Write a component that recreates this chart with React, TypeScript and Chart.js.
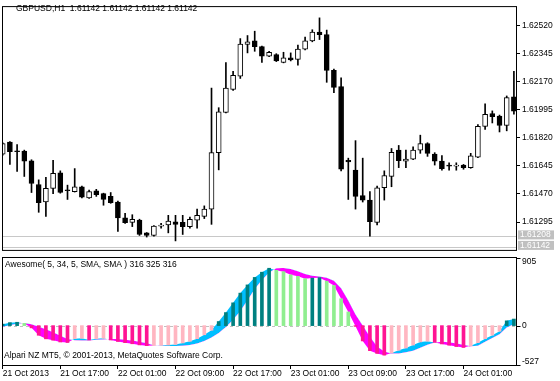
import React, { useEffect, useRef } from 'react';
import { Chart, registerables } from 'chart.js';

Chart.register(...registerables);

// ---------- data ----------
const opens = [
  1.61717, 1.61793, 1.61735, 1.61737, 1.61677, 1.61529, 1.61420, 1.61505, 1.61602, 1.61492,
  1.61485, 1.61515, 1.61445, 1.61489, 1.61472, 1.61455, 1.61420, 1.61321, 1.61293, 1.61307,
  1.61228, 1.61212, 1.61270, 1.61277, 1.61297, 1.61293, 1.61267, 1.61307, 1.61331, 1.61376,
  1.61727, 1.61977, 1.62120, 1.62203, 1.62401, 1.62423, 1.62387, 1.62328, 1.62337, 1.62288,
  1.62318, 1.62308, 1.62371, 1.62423, 1.62477, 1.62462, 1.62239, 1.62139, 1.61680, 1.61618,
  1.61460, 1.61432, 1.61293, 1.61509, 1.61580, 1.61743, 1.61674, 1.61687, 1.61743, 1.61783,
  1.61719, 1.61674, 1.61645, 1.61643, 1.61650, 1.61634, 1.61699, 1.61891, 1.61971, 1.61955,
  1.61896, 1.62074,
];
const highs = [
  1.61789, 1.61796, 1.61777, 1.61743, 1.61683, 1.61558, 1.61574, 1.61680, 1.61614, 1.61525,
  1.61628, 1.61519, 1.61495, 1.61499, 1.61475, 1.61479, 1.61426, 1.61350, 1.61341, 1.61313,
  1.61230, 1.61274, 1.61287, 1.61337, 1.61337, 1.61337, 1.61326, 1.61376, 1.61396, 1.62129,
  1.62007, 1.62288, 1.62233, 1.62437, 1.62456, 1.62483, 1.62391, 1.62358, 1.62343, 1.62352,
  1.62348, 1.62397, 1.62447, 1.62492, 1.62566, 1.62490, 1.62248, 1.62193, 1.61693, 1.61802,
  1.61693, 1.61485, 1.61519, 1.61614, 1.61753, 1.61772, 1.61743, 1.61763, 1.61836, 1.61789,
  1.61727, 1.61709, 1.61664, 1.61664, 1.61654, 1.61723, 1.61902, 1.62031, 1.61987, 1.61961,
  1.62080, 1.62233,
];
const lows = [
  1.61711, 1.61654, 1.61610, 1.61579, 1.61479, 1.61356, 1.61331, 1.61472, 1.61475, 1.61436,
  1.61482, 1.61445, 1.61442, 1.61455, 1.61400, 1.61412, 1.61237, 1.61287, 1.61267, 1.61212,
  1.61202, 1.61208, 1.61257, 1.61228, 1.61178, 1.61218, 1.61257, 1.61257, 1.61317, 1.61281,
  1.61620, 1.61975, 1.62114, 1.62189, 1.62348, 1.62358, 1.62288, 1.62324, 1.62294, 1.62286,
  1.62298, 1.62272, 1.62367, 1.62417, 1.62431, 1.62165, 1.62100, 1.61614, 1.61436, 1.61376,
  1.61420, 1.61208, 1.61277, 1.61432, 1.61515, 1.61634, 1.61634, 1.61683, 1.61723, 1.61704,
  1.61650, 1.61618, 1.61618, 1.61618, 1.61624, 1.61630, 1.61696, 1.61872, 1.61912, 1.61856,
  1.61863, 1.61967,
];
const closes = [
  1.61783, 1.61733, 1.61733, 1.61674, 1.61535, 1.61416, 1.61505, 1.61598, 1.61479, 1.61490,
  1.61515, 1.61450, 1.61485, 1.61466, 1.61436, 1.61416, 1.61321, 1.61291, 1.61313, 1.61218,
  1.61212, 1.61271, 1.61272, 1.61301, 1.61281, 1.61267, 1.61313, 1.61337, 1.61376, 1.61727,
  1.61981, 1.62129, 1.62209, 1.62403, 1.62417, 1.62387, 1.62328, 1.62352, 1.62298, 1.62318,
  1.62304, 1.62371, 1.62423, 1.62477, 1.62462, 1.62239, 1.62133, 1.61624, 1.61670, 1.61455,
  1.61432, 1.61297, 1.61509, 1.61585, 1.61729, 1.61677, 1.61687, 1.61743, 1.61783, 1.61723,
  1.61674, 1.61628, 1.61643, 1.61645, 1.61634, 1.61707, 1.61891, 1.61965, 1.61951, 1.61896,
  1.62070, 1.61985,
];
const aoValues = [
  20, 40, 45, 30, -30, -129, -177, -195, -219, -226,
  -175, -170, -192, -175, -170, -192, -212, -228, -243, -258,
  -268, -265, -262, -260, -252, -232, -210, -175, -122, -62,
  55, 175, 305, 435, 545, 645, 715, 768, 740, 722,
  680, 660, 628, 636, 642, 595, 537, 360, 183, -10,
  -205, -335, -372, -395, -365, -330, -300, -260, -218, -208,
  -225, -245, -262, -280, -292, -270, -228, -175, -128, -75,
  64, 88,
];
const aoSignal = [
  -15, 5, 25, 35, 20, -15, -50, -90, -135, -180,
  -195, -200, -198, -190, -185, -180, -180, -188, -200, -215,
  -235, -262, -268, -272, -272, -268, -258, -240, -205, -160,
  -100, -20, 80, 195, 340, 490, 610, 710, 768, 772,
  758, 728, 692, 668, 658, 642, 602, 500, 335, 150,
  0, -148, -281, -347, -372, -372, -355, -335, -295, -255,
  -225, -215, -222, -238, -255, -275, -268, -215, -165, -115,
  -25, 20,
];
const priceTicks = [1.6252, 1.62345, 1.6217, 1.61995, 1.6182, 1.61645, 1.6147, 1.61295];
const priceLines = [1.61208, 1.61142];
const aoTicks = [905, 0, -527];
const timeTickIdx = [0, 8, 16, 24, 32, 40, 48, 56, 64];
const timeTickLabels = [
  '21 Oct 2013', '21 Oct 17:00', '22 Oct 01:00', '22 Oct 09:00', '22 Oct 17:00',
  '23 Oct 01:00', '23 Oct 09:00', '23 Oct 17:00', '24 Oct 01:00',
];
const titleText = 'GBPUSD,H1  1.61142 1.61142 1.61142 1.61142';
const indicatorText = 'Awesome( 5, 34, 5, SMA, SMA ) 316 325 316';
const copyrightText = 'Alpari NZ MT5, \u00A9 2001-2013, MetaQuotes Software Corp.';

// ---------- layout / style ----------
const FONT_FAMILY = '"Liberation Sans", Arial, sans-serif';
const FONT_SIZE = 8.5;
const FONT = `${FONT_SIZE}px ${FONT_FAMILY}`;
const X_MIN = -0.097;
const X_MAX = 71.29;
const PRICE_MIN = 1.61122;
const PRICE_MAX = 1.62633;
const AO_MIN = -527;
const AO_MAX = 905;

const topPlugin = {
  id: 'mtTop',
  beforeDatasetsDraw(chart: any) {
    const { ctx, chartArea: a, scales } = chart;
    ctx.save();
    ctx.strokeStyle = '#c8c8c8';
    ctx.lineWidth = 1;
    priceLines.forEach((p) => {
      const y = Math.round(scales.y.getPixelForValue(p)) + 0.5;
      ctx.beginPath();
      ctx.moveTo(a.left, y);
      ctx.lineTo(a.right, y);
      ctx.stroke();
    });
    ctx.restore();
  },
  afterDraw(chart: any) {
    const { ctx, chartArea: a, scales } = chart;
    ctx.save();
    ctx.strokeStyle = '#000';
    ctx.lineWidth = 1;
    ctx.strokeRect(a.left + 0.5, a.top - 0.5, a.right - a.left, a.bottom - a.top + 1);
    ctx.font = FONT;
    ctx.fillStyle = '#000';
    ctx.textBaseline = 'middle';
    ctx.textAlign = 'left';
    ctx.fillText(titleText, 16, 8.5);
    const boxes = priceLines
      .map((p) => ({ p, c: scales.y.getPixelForValue(p) }))
      .sort((m, n) => n.c - m.c);
    let limit = a.bottom;
    boxes.forEach((b) => {
      const bottom = Math.min(b.c + 4.5, limit);
      const top = bottom - 9;
      ctx.fillStyle = '#c0c0c0';
      ctx.fillRect(a.right + 2, top, 36, 9);
      ctx.fillStyle = '#fff';
      ctx.fillText(b.p.toFixed(5), a.right + 4, top + 4.7);
      limit = top - 1.5;
    });
    ctx.restore();
  },
};

const bottomPlugin = {
  id: 'mtBottom',
  beforeDatasetsDraw(chart: any) {
    const { ctx, chartArea: a, scales } = chart;
    ctx.save();
    ctx.strokeStyle = '#c0c0c0';
    ctx.lineWidth = 1;
    ctx.setLineDash([3, 3]);
    const y0 = Math.round(scales.y.getPixelForValue(0)) + 0.5;
    ctx.beginPath();
    ctx.moveTo(a.left, y0);
    ctx.lineTo(a.right, y0);
    ctx.stroke();
    ctx.restore();
  },
  afterDraw(chart: any) {
    const { ctx, chartArea: a, scales } = chart;
    ctx.save();
    ctx.strokeStyle = '#000';
    ctx.lineWidth = 1;
    ctx.strokeRect(a.left + 0.5, a.top - 0.5, a.right - a.left, a.bottom - a.top + 1);
    ctx.font = FONT;
    ctx.fillStyle = '#000';
    ctx.textBaseline = 'middle';
    ctx.textAlign = 'left';
    ctx.fillText(indicatorText, 5, 8);
    ctx.fillText(copyrightText, 4, 99);
    aoTicks.forEach((v) => {
      const py = scales.y.getPixelForValue(v);
      const ty = Math.min(Math.max(Math.round(py), a.top), a.bottom) + 0.5;
      ctx.beginPath();
      ctx.moveTo(a.right + 0.5, ty);
      ctx.lineTo(a.right + 4.5, ty);
      ctx.stroke();
      const ly = Math.min(Math.max(py, a.top + 3.5), a.bottom - 3.5);
      ctx.fillText(String(v), a.right + 6, ly);
    });
    ctx.restore();
  },
};

export default function App() {
  const topRef = useRef<HTMLCanvasElement>(null);
  const botRef = useRef<HTMLCanvasElement>(null);

  useEffect(() => {
    const idx = opens.map((_, i) => i);
    const bull = opens.map((o, i) => closes[i] >= o);
    const aoColors = aoValues.map((v, i) => {
      const up = i === 0 ? true : v >= aoValues[i - 1];
      if (v >= 0) return up ? '#008080' : '#90ee90';
      return up ? '#ffb6c1' : '#ff1493';
    });

    const top = new Chart(topRef.current as HTMLCanvasElement, {
      type: 'bar',
      data: {
        datasets: [
          {
            type: 'bar',
            data: idx.map((i) => ({ x: i, y: [opens[i], closes[i]] })) as any,
            backgroundColor: bull.map((b) => (b ? '#ffffff' : '#000000')),
            borderColor: '#000',
            borderWidth: 1,
            borderSkipped: false,
            barThickness: 5,
            minBarLength: 1,
            grouped: false,
            order: 0,
          } as any,
          {
            type: 'bar',
            data: idx.map((i) => ({ x: i, y: [lows[i], highs[i]] })) as any,
            backgroundColor: '#000',
            borderWidth: 0,
            barThickness: 1,
            grouped: false,
            order: 1,
          } as any,
        ],
      },
      options: {
        responsive: false,
        animation: false,
        devicePixelRatio: 1,
        layout: { padding: { left: 2, top: 2, right: 0, bottom: 1 } },
        plugins: { legend: { display: false }, tooltip: { enabled: false } },
        scales: {
          x: { type: 'linear', min: X_MIN, max: X_MAX, offset: false, display: false },
          y: {
            type: 'linear',
            position: 'right',
            min: PRICE_MIN,
            max: PRICE_MAX,
            afterBuildTicks: (s: any) => {
              s.ticks = priceTicks.map((v) => ({ value: v }));
            },
            afterFit: (s: any) => {
              s.width = 44;
            },
            ticks: {
              callback: (v: any) => Number(v).toFixed(5),
              color: '#000',
              font: { family: FONT_FAMILY, size: FONT_SIZE },
              padding: 2,
            },
            grid: { drawOnChartArea: false, drawTicks: true, tickLength: 4, color: '#000' },
            border: { display: false },
          },
        },
      } as any,
      plugins: [topPlugin],
    });

    const bot = new Chart(botRef.current as HTMLCanvasElement, {
      type: 'bar',
      data: {
        datasets: [
          {
            type: 'bar',
            data: idx.map((i) => ({ x: i, y: aoValues[i] })) as any,
            backgroundColor: aoColors,
            borderWidth: 0,
            barThickness: 3,
            grouped: false,
            order: 0,
          } as any,
          {
            type: 'line',
            data: idx.map((i) => ({ x: i, y: aoValues[i] })) as any,
            borderColor: 'rgba(0,0,0,0)',
            borderWidth: 0,
            pointRadius: 0,
            tension: 0,
            fill: { target: '+1', above: '#00bfff', below: '#ff00ff' },
            order: 1,
          } as any,
          {
            type: 'line',
            data: idx.map((i) => ({ x: i, y: aoSignal[i] })) as any,
            borderColor: 'rgba(0,0,0,0)',
            borderWidth: 0,
            pointRadius: 0,
            tension: 0,
            fill: false,
            order: 2,
          } as any,
        ],
      },
      options: {
        responsive: false,
        animation: false,
        devicePixelRatio: 1,
        layout: { padding: { left: 2, top: 1, right: 44, bottom: 0 } },
        plugins: { legend: { display: false }, tooltip: { enabled: false } },
        scales: {
          x: {
            type: 'linear',
            min: X_MIN,
            max: X_MAX,
            offset: false,
            position: 'bottom',
            afterBuildTicks: (s: any) => {
              s.ticks = timeTickIdx.map((v) => ({ value: v }));
            },
            afterFit: (s: any) => {
              s.height = 16;
            },
            ticks: {
              callback: (v: any) => {
                const k = timeTickIdx.indexOf(Number(v));
                return k >= 0 ? timeTickLabels[k] : '';
              },
              align: 'start',
              maxRotation: 0,
              minRotation: 0,
              autoSkip: false,
              padding: 0,
              color: '#000',
              font: { family: FONT_FAMILY, size: FONT_SIZE },
            },
            grid: { drawOnChartArea: false, drawTicks: true, tickLength: 4, color: '#000', offset: false },
            border: { display: false },
          },
          y: { type: 'linear', min: AO_MIN, max: AO_MAX, display: false },
        },
      } as any,
      plugins: [bottomPlugin],
    });

    return () => {
      top.destroy();
      bot.destroy();
    };
  }, []);

  return (
    <div style={{ position: 'fixed', left: 0, top: 0, width: 560, height: 381, background: '#fff' }}>
      <canvas ref={topRef} width={560} height={257} style={{ display: 'block', width: 560, height: 257 }} />
      <canvas ref={botRef} width={560} height={124} style={{ display: 'block', width: 560, height: 124 }} />
    </div>
  );
}
